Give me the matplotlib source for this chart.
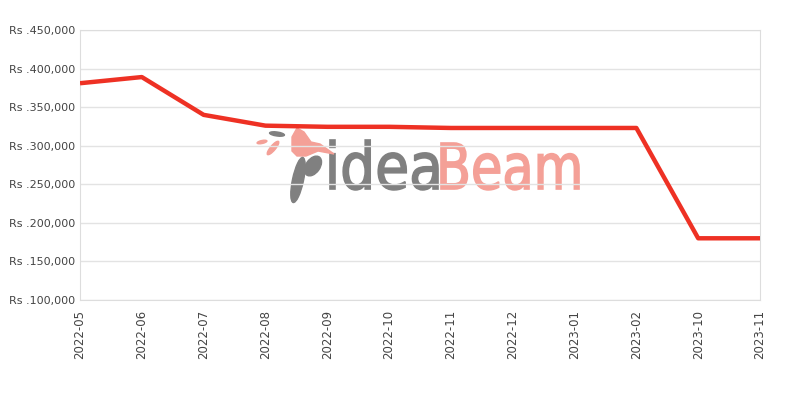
import matplotlib.pyplot as plt
from matplotlib.ticker import FuncFormatter
from matplotlib.textpath import TextPath
from matplotlib.patches import PathPatch, Ellipse, Polygon
from matplotlib.transforms import Affine2D, IdentityTransform
from matplotlib.font_manager import FontProperties

months = ['2022-05', '2022-06', '2022-07', '2022-08', '2022-09', '2022-10',
          '2022-11', '2022-12', '2023-01', '2023-02', '2023-10', '2023-11']
prices = [381000, 389000, 340000, 326000, 324500, 324500,
          323000, 323000, 323000, 323000, 180000, 180000]

W, H = 800, 400
fig = plt.figure(figsize=(8, 4), dpi=100)
ax = fig.add_axes([0.1, 0.25, 0.85, 0.675])
ax.patch.set_alpha(0)

x = range(len(months))
ax.plot(x, prices, color='#ee3124', linewidth=3.2, solid_capstyle='butt', zorder=3)

ax.set_xlim(0, len(months) - 1)
ax.set_ylim(100000, 450000)
ax.set_yticks(range(100000, 450001, 50000))
ax.yaxis.set_major_formatter(FuncFormatter(lambda v, p: 'Rs .{:,.0f}'.format(v)))
ax.set_xticks(list(x))
ax.set_xticklabels(months, rotation=90)

ax.grid(axis='y', color='#e3e3e3', linewidth=1)
ax.set_axisbelow(True)
for s in ax.spines.values():
    s.set_color('#dddddd')
ax.tick_params(length=0, labelsize=8, colors='#444444')
ax.tick_params(axis='x', pad=7, labelsize=8.5)


# watermark, drawn in pixel coords (y measured from top)
def word(s, x0, x1, top, base, color):
    p = TextPath((0, 0), s, size=60, prop=FontProperties(family='DejaVu Sans'))
    e = p.get_extents()
    sx = (x1 - x0) / e.width
    sy = (base - top) / e.y1
    tr = Affine2D().translate(-e.x0, 0).scale(sx, sy).translate(x0, H - base)
    fig.patches.append(PathPatch(tr.transform_path(p), fc=color, ec=color, lw=1.2,
                                 transform=IdentityTransform(), zorder=-1))


def shape(patch):
    patch.set_transform(IdentityTransform())
    patch.set_zorder(-1)
    fig.patches.append(patch)


word('idea', 330, 438, 140, 189, '#808080')
word('Beam', 441, 579, 143, 189, '#f4a097')

shape(Ellipse((277, H - 134), 15, 4, angle=-8, color='#808080'))
shape(Ellipse((262, H - 142), 10, 3, angle=12, color='#f4a097'))
shape(Ellipse((273, H - 148), 17, 5, angle=50, color='#f4a097'))
bird = [(292, 151), (292, 137), (297, 128), (304, 132), (311, 142), (320, 144),
        (334, 154), (318, 151), (306, 156), (297, 156)]
shape(Polygon([(a, H - b) for a, b in bird], closed=True, color='#f4a097'))
shape(Ellipse((313, H - 166), 14, 22, angle=-35, color='#808080'))
shape(Ellipse((298, H - 180), 11, 46, angle=-12, color='#808080'))

fig.savefig('out.png', dpi=100)
